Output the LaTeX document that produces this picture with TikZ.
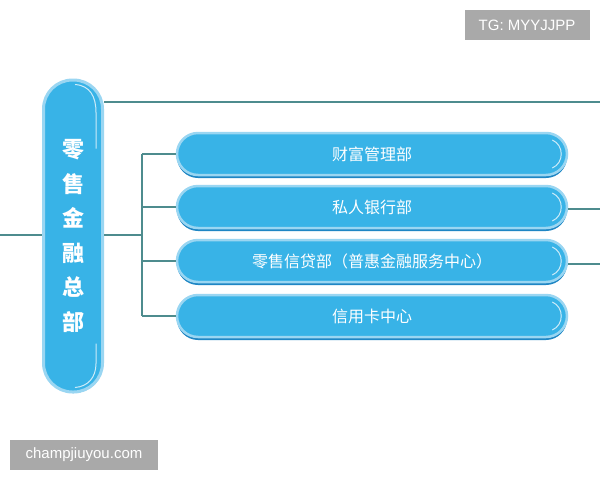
\documentclass[tikz,border=0pt]{standalone}
\usepackage{fontspec}
\setmainfont{Liberation Sans}
\newfontfamily\cjk{Noto Sans CJK SC}
\usetikzlibrary{calc}
\definecolor{boxfill}{HTML}{38B3E7}
\definecolor{boxedge}{HTML}{9AD6F2}
\definecolor{boxshade}{HTML}{1F86C4}
\definecolor{linec}{HTML}{4E8C8E}
\definecolor{wmgray}{HTML}{A9A9A9}
\tikzset{
  dept/.style={draw=boxedge, line width=2.5pt, fill=boxfill, rounded corners=21pt,
    minimum width=390pt, minimum height=42pt, text=white, font=\cjk\fontsize{16}{18}\selectfont,
    inner sep=0pt},
  head/.style={draw=boxedge, line width=3pt, fill=boxfill, rounded corners=29pt,
    minimum width=59pt, minimum height=312pt, text=white, align=center,
    font=\cjk\bfseries\fontsize{22}{34.5}\selectfont, inner sep=0pt},
  conn/.style={draw=linec, line width=1.1pt},
  gloss/.style={draw=white, line width=1pt, opacity=0.75},
  wm/.style={fill=wmgray, text=white, inner sep=0pt, font=\fontsize{15}{17}\selectfont}
}
\begin{document}
\begin{tikzpicture}[x=1pt,y=-1pt]
\useasboundingbox (0,0) rectangle (600,480);
\fill[white] (0,0) rectangle (600,480);
% shadows
\foreach \y in {154,207,261,316}{
  \fill[boxshade] (177,\y-19) [rounded corners=21pt] rectangle (567,\y+24);
}
\fill[boxshade] (44,80) [rounded corners=29pt] rectangle (103,393);
\coordinate (L0) at (0,235);
\coordinate (R1) at (600,102);
\coordinate (R2) at (600,209);
\coordinate (R3) at (600,264);
\coordinate (bus) at (142,235);
\node[head] (H) at (73,236) {零\\售\\金\\融\\总\\部};
\node[dept] (D1) at (372,154) {财富管理部};
\node[dept] (D2) at (372,207) {私人银行部};
\node[dept] (D3) at (372,261) {零售信贷部（普惠金融服务中心）};
\node[dept] (D4) at (372,316) {信用卡中心};
\draw[conn] (L0) -- (H.west |- L0);
\draw[conn] (H.east |- R1) -- (R1);
\draw[conn] (H.east |- bus) -- (bus);
\draw[conn] (bus |- D1) -- (bus |- D4);
\foreach \d in {D1,D2,D3,D4}{\draw[conn] (bus |- \d) -- (\d.west);}
\draw[conn] (D2.east |- R2) -- (R2);
\draw[conn] (D3.east |- R3) -- (R3);
% gloss arcs on right ends
\foreach \d in {D1,D2,D3,D4}{
  \draw[gloss] ($(\d.east)+(-16,-14)$) .. controls ($(\d.east)+(-4,-9)$) and ($(\d.east)+(-4,9)$) .. ($(\d.east)+(-16,14)$);
}
\draw[gloss] ($(H.north)+(2,6)$) .. controls ($(H.north)+(17,7)$) and ($(H.north)+(23,18)$) .. ($(H.north)+(23,34)$) -- ($(H.north)+(23,70)$);
\draw[gloss] ($(H.south)+(23,-50)$) -- ($(H.south)+(23,-30)$) .. controls ($(H.south)+(23,-16)$) and ($(H.south)+(15,-7)$) .. ($(H.south)+(2,-6)$);
% watermarks
\node[wm, minimum width=125pt, minimum height=30pt] (W1) at (527,25) {TG: MYYJJPP};
\node[wm, minimum width=148pt, minimum height=30pt] (W2) at (84,455) {champjiuyou.com};
\end{tikzpicture}
\end{document}
